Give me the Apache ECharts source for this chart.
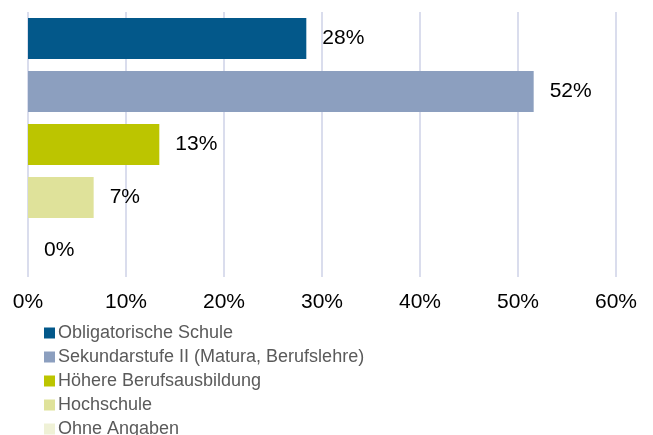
<!DOCTYPE html>
<html>
<head>
  <meta charset="utf-8">
  <title>ECharts</title>
  <script src="https://cdn.jsdelivr.net/npm/echarts@6/dist/echarts.min.js"></script>
</head>
<body style="margin:0">
<div id="main" style="width: 653px;height:435px;"></div>
<script type="text/javascript">
  // Bildungsstand - Anteile in Prozent
  var categories = ['Obligatorische Schule', 'Sekundarstufe II (Matura, Berufslehre)', 'Höhere Berufsausbildung', 'Hochschule', 'Ohne Angaben'];
  var values = [28.4, 51.6, 13.4, 6.7, 0];
  var colors = ['#03588a', '#8c9fbf', '#bcc500', '#dfe29a', '#eff1d6'];
  var xTicks = [0, 10, 20, 30, 40, 50, 60];

  var myChart = echarts.init(document.getElementById('main'));

  // eine Serie pro Kategorie, damit die Legende jede Farbe zeigt
  var series = categories.map(function (name, i) {
    var data = categories.map(function (c, j) { return j === i ? values[i] : '-'; });
    return {
      name: name,
      type: 'bar',
      stack: 'all',
      barWidth: 41,
      itemStyle: { color: colors[i] },
      label: {
        show: true,
        position: 'right',
        distance: 16,
        color: '#000',
        fontFamily: 'Liberation Sans',
        fontSize: 21,
        formatter: function (p) { return Math.round(p.value) + '%'; }
      },
      data: data
    };
  });

  var option = {
    animation: false,
    grid: { left: 28, right: 37, top: 12, bottom: 158 },
    legend: {
      orient: 'vertical',
      left: 44,
      top: 324,
      height: 140,
      padding: 0,
      itemWidth: 11,
      itemHeight: 11,
      itemGap: 6,
      icon: 'rect',
      textStyle: { color: '#5a5a5a', fontFamily: 'Liberation Sans', fontSize: 18, lineHeight: 18, padding: [0, 0, 0, -2] },
      data: categories
    },
    xAxis: {
      type: 'value',
      min: xTicks[0],
      max: xTicks[xTicks.length - 1],
      interval: 10,
      axisLine: { show: false },
      axisTick: { show: false },
      splitLine: { lineStyle: { color: '#dadded', width: 2 } },
      axisLabel: {
        margin: 15,
        color: '#000',
        fontFamily: 'Liberation Sans',
        fontSize: 21,
        formatter: '{value}%'
      }
    },
    yAxis: {
      type: 'category',
      inverse: true,
      data: categories,
      axisLine: { show: false },
      axisTick: { show: false },
      axisLabel: { show: false }
    },
    series: series
  };

  myChart.setOption(option);
</script>
</body>
</html>
